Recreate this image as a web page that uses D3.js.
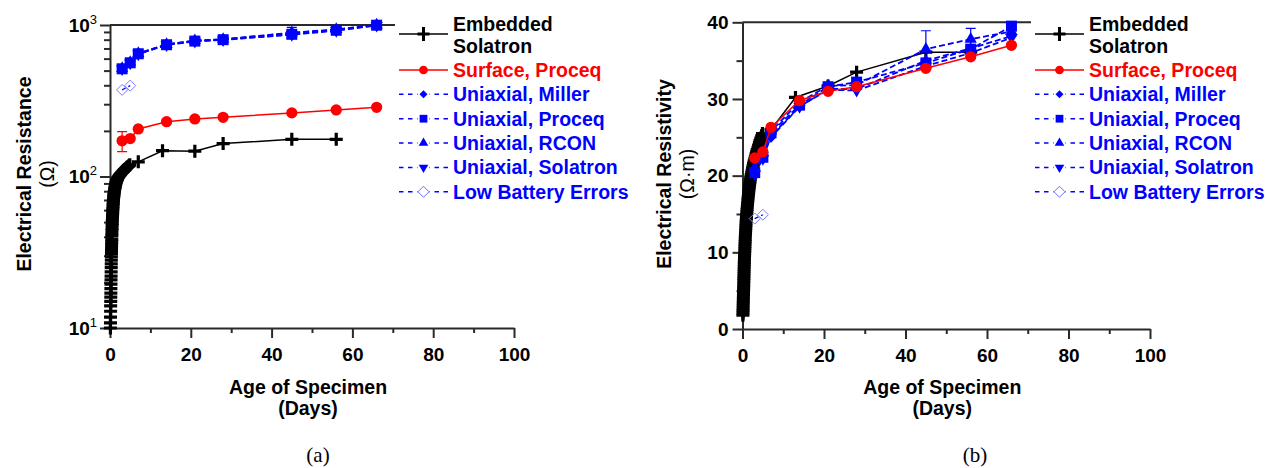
<!DOCTYPE html>
<html>
<head>
<meta charset="utf-8">
<script src="https://cdn.jsdelivr.net/npm/d3@7"></script>
<style>
  body { margin: 0; background: #fff; }
  svg { display: block; }
  text { font-family: "Liberation Sans", Arial, sans-serif; }
</style>
</head>
<body>
<svg id="chart" width="1277" height="468"></svg>
<script>
// ---- data ----
// embedded Solatron: dense logging up to day 5, then weekly readings
var embeddedDays = [0.10,0.12,0.13,0.15,0.16,0.18,0.19,0.21,0.22,0.24,
    0.25,0.27,0.28,0.30,0.31,0.33,0.34,0.36,0.37,0.39,
    0.40,0.42,0.44,0.45,0.47,0.49,0.51,0.53,0.56,0.58,
    0.60,0.62,0.65,0.67,0.69,0.72,0.75,0.78,0.81,0.84,
    0.87,0.90,0.95,0.98,1.03,1.08,1.12,1.17,1.22,1.27,
    1.32,1.38,1.44,1.50,1.56,1.63,1.70,1.77,1.85,1.92,
    2.02,2.13,2.25,2.36,2.47,2.59,2.70,2.85,3.00,3.15,
    3.30,3.45,3.60,3.80,3.95,4.15,4.30,4.50,4.70,4.90,
    7,13,21,28,45,56];
var embeddedOhm = [10.0,10.8,11.8,12.9,14.0,15.0,16.0,17.0,18.2,19.5,
    20.8,22.0,23.5,25.0,26.5,28.0,29.5,31.0,32.5,34.0,
    35.5,37.0,38.5,40.5,42.0,44.0,45.5,47.5,49.0,51.0,
    52.5,54.5,56.0,58.0,60.0,61.5,63.5,65.5,67.0,69.0,
    70.5,72.5,74.5,76.0,78.0,79.5,81.0,82.5,84.0,85.5,
    87.0,88.5,89.5,91.0,92.0,93.0,94.5,95.5,96.5,97.5,
    98.5,99.5,100.5,101.5,102.5,103.5,104.5,105.5,106.5,107.5,
    109.0,110.0,111.0,112.0,113.0,114.5,115.5,116.5,118.0,119.5,
    125,148,147,165,176,176];
var embeddedRho = [1.8,2.1,2.4,2.7,3.0,3.3,3.6,3.9,4.2,4.5,
    4.8,5.1,5.4,5.7,6.0,6.3,6.6,6.9,7.2,7.5,
    7.8,8.1,8.4,8.7,9.0,9.3,9.6,9.9,10.2,10.5,
    10.8,11.1,11.4,11.7,12.0,12.3,12.6,12.9,13.2,13.5,
    13.8,14.1,14.4,14.7,15.0,15.3,15.6,15.9,16.2,16.5,
    16.8,17.1,17.4,17.7,18.0,18.3,18.6,18.9,19.2,19.5,
    19.8,20.1,20.4,20.7,21.0,21.3,21.6,21.9,22.2,22.5,
    22.8,23.1,23.4,23.7,24.0,24.3,24.6,24.9,25.2,25.5,
    26.0,30.2,31.7,33.5,36.1,36.1];

var testDays = [3,5,7,14,21,28,45,56,66];
var surfaceOhm = [172,178,206,230,240,246,263,275,286];
var surfaceOhmErr = [26,0,0,0,0,0,0,0,0];
var surfaceRho = [22.3,23.1,26.3,29.8,31.0,31.6,34.0,35.5,37.0];

var millerOhm = [516,566,648,743,787,803,885,930,1000];
var proceqOhm = [514,563,646,741,783,800,868,923,997];
var rconOhm = [518,568,650,745,790,805,890,935,1002];
var rconOhmErr = [0,0,0,0,0,0,75,0,0];
var solatronOhm = [512,560,643,738,780,797,864,918,993];

var millerRho = [20.6,22.6,25.0,29.0,31.3,31.3,35.0,36.6,38.2];
var proceqRho = [20.4,22.4,25.6,29.2,31.6,32.2,34.7,36.5,39.5];
var rconRho = [21.0,23.0,25.8,29.6,31.7,31.8,36.5,37.8,38.8];
var rconRhoErr = [0,0,0,0,0,0,2.4,1.4,0];
var solatronRho = [20.2,22.2,25.2,29.0,31.2,31.1,34.3,36.0,38.0];

var lowBatteryDays = [3,5];
var lowBatteryOhm = [373,398];
var lowBatteryRho = [14.4,14.9];

var xTicks = [0,20,40,60,80,100];
var xMinorTicks = [10,30,50,70,90];
var legendNames = ["Surface, Proceq","Uniaxial, Miller","Uniaxial, Proceq","Uniaxial, RCON","Uniaxial, Solatron","Low Battery Errors"];

var svg = d3.select("#chart");
var BLUE = "#0000ff", RED = "#ff0000", AXIS = "#2a2a2a";

// marker paths
function diamondPath(r) { return "M0," + (-r) + "L" + r + ",0L0," + r + "L" + (-r) + ",0Z"; }
var markers = {
    plus: { d: "M-6.5,0H6.5M0,-6.5V6.5", fill: "none", stroke: "#000", sw: 3.2 },
    circle: { d: d3.symbol(d3.symbolCircle, 100)(), fill: RED, stroke: "none", sw: 0 },
    diamond: { d: diamondPath(5.5), fill: BLUE, stroke: "none", sw: 0 },
    square: { d: d3.symbol(d3.symbolSquare, 121)(), fill: BLUE, stroke: "none", sw: 0 },
    tri: { d: d3.symbol(d3.symbolTriangle, 65)(), fill: BLUE, stroke: "none", sw: 0 },
    triDown: { d: d3.symbol(d3.symbolTriangle, 65)(), fill: BLUE, stroke: "none", sw: 0, rot: 180 },
    openDiamond: { d: diamondPath(5.5), fill: "none", stroke: "#7d7dff", sw: 1 }
};
var legendMarkers = {
    plus: { d: "M-6,0H6M0,-7V7", fill: "none", stroke: "#000", sw: 3 },
    circle: { d: d3.symbol(d3.symbolCircle, 60)(), fill: RED, stroke: "none", sw: 0 },
    diamond: { d: diamondPath(4), fill: BLUE, stroke: "none", sw: 0 },
    square: { d: d3.symbol(d3.symbolSquare, 60)(), fill: BLUE, stroke: "none", sw: 0 },
    tri: { d: d3.symbol(d3.symbolTriangle, 40)(), fill: BLUE, stroke: "none", sw: 0 },
    triDown: { d: d3.symbol(d3.symbolTriangle, 40)(), fill: BLUE, stroke: "none", sw: 0, rot: 180 },
    openDiamond: { d: diamondPath(5.5), fill: "none", stroke: "#6b6bff", sw: 1 }
};

function drawMarkers(g, pts, m) {
    g.selectAll(null)
        .data(pts)
        .enter().append("path")
        .attr("d", m.d)
        .attr("transform", function (p) { return "translate(" + p[0] + "," + p[1] + ")" + (m.rot ? " rotate(" + m.rot + ")" : ""); })
        .attr("fill", m.fill)
        .attr("stroke", m.stroke)
        .attr("stroke-width", m.sw);
}

function drawSeries(g, x, y, days, vals, opt) {
    var pts = days.map(function (d, i) { return [x(d), y(vals[i])]; });
    // error bars first
    if (opt.err) {
        opt.err.forEach(function (e, i) {
            if (!e) return;
            var px = x(days[i]);
            var y1 = y(vals[i] + e), y0 = y(vals[i] - e);
            g.append("path")
                .attr("d", "M" + px + "," + y0 + "V" + y1 + "M" + (px - 5) + "," + y1 + "H" + (px + 5) + "M" + (px - 5) + "," + y0 + "H" + (px + 5))
                .attr("stroke", opt.color).attr("stroke-width", 1.2).attr("fill", "none");
        });
    }
    g.append("path")
        .attr("d", d3.line()(pts))
        .attr("fill", "none")
        .attr("stroke", opt.lineColor || opt.color)
        .attr("stroke-width", opt.width || 1.5)
        .attr("stroke-dasharray", opt.dash || null);
    drawMarkers(g, pts, opt.marker);
}

function drawPanel(cfg) {
    var g = svg.append("g");
    var x = d3.scaleLinear().domain([0, 100]).range([cfg.left, cfg.right]);
    var y = cfg.y;

    // top frame line
    g.append("line")
        .attr("x1", cfg.left).attr("x2", cfg.right)
        .attr("y1", cfg.top).attr("y2", cfg.top)
        .attr("stroke", AXIS).attr("stroke-width", 2);

    // x axis
    var xAxis = g.append("g").attr("transform", "translate(0," + cfg.bottom + ")")
        .call(d3.axisBottom(x).tickValues(xTicks).tickSize(10).tickSizeOuter(0).tickPadding(10));
    g.append("g").attr("transform", "translate(0," + cfg.bottom + ")")
        .call(d3.axisBottom(x).tickValues(xMinorTicks).tickSize(5).tickSizeOuter(0).tickFormat(""))
        .select(".domain").remove();
    xAxis.selectAll("text").style("font-size", "19px").style("font-weight", "bold").attr("fill", "#000");

    // y axis
    var yAxis = g.append("g").attr("transform", "translate(" + cfg.left + ",0)")
        .call(d3.axisLeft(y).tickValues(cfg.yTicks).tickSize(10).tickSizeOuter(0).tickPadding(4)
            .tickFormat(cfg.log ? "" : d3.format("d")));
    g.append("g").attr("transform", "translate(" + cfg.left + ",0)")
        .call(d3.axisLeft(y).tickValues(cfg.yMinor).tickSize(6).tickSizeOuter(0).tickFormat(""))
        .select(".domain").remove();
    yAxis.selectAll("text").style("font-size", "19px").style("font-weight", "bold").attr("fill", "#000");
    if (cfg.log) {
        cfg.yTicks.forEach(function (t) {
            var txt = g.append("text")
                .attr("x", cfg.left - 13).attr("y", y(t)).attr("dy", "0.36em")
                .attr("text-anchor", "end")
                .style("font-size", "19px").style("font-weight", "bold");
            txt.append("tspan").text("10");
            txt.append("tspan").attr("dy", -8).style("font-size", "13px").style("font-weight", "normal")
                .text(Math.round(Math.log10(t)));
        });
    }
    g.selectAll(".domain, .tick line").attr("stroke", AXIS).attr("stroke-width", 2);

    // axis titles
    var midY = 174;
    g.append("text")
        .attr("transform", "translate(" + cfg.yTitleX + "," + midY + ") rotate(-90)")
        .attr("text-anchor", "middle").attr("dominant-baseline", "central")
        .style("font-size", "19.5px").style("font-weight", "bold")
        .text(cfg.yTitle1);
    g.append("text")
        .attr("transform", "translate(" + (cfg.yTitleX + 23) + "," + midY + ") rotate(-90)")
        .attr("text-anchor", "middle").attr("dominant-baseline", "central")
        .style("font-size", "19.5px")
        .text(cfg.yTitle2);
    var xMid = (cfg.left + cfg.right) / 2 - 4;
    g.append("text").attr("x", xMid).attr("y", 394).attr("text-anchor", "middle")
        .style("font-size", "19.5px").style("font-weight", "bold").text("Age of Specimen");
    g.append("text").attr("x", xMid).attr("y", 415).attr("text-anchor", "middle")
        .style("font-size", "19.5px").style("font-weight", "bold").text("(Days)");
    g.append("text").attr("x", cfg.captionX).attr("y", 462).attr("text-anchor", "middle")
        .style("font-family", "'Liberation Serif', 'Times New Roman', serif")
        .style("font-size", "21px").text(cfg.caption);

    // data
    var d = cfg.data;
    drawSeries(g, x, y, embeddedDays, d.embedded, { color: "#000", width: 1.5, marker: markers.plus });
    drawSeries(g, x, y, testDays, d.solatron, { color: BLUE, width: 1.8, dash: "6,3", marker: markers.triDown });
    drawSeries(g, x, y, testDays, d.miller, { color: BLUE, width: 1.8, dash: "6,3", marker: markers.diamond });
    drawSeries(g, x, y, testDays, d.rcon, { color: BLUE, width: 1.8, dash: "6,3", marker: markers.tri, err: d.rconErr });
    drawSeries(g, x, y, testDays, d.proceq, { color: BLUE, width: 1.8, dash: "6,3", marker: markers.square });
    drawSeries(g, x, y, lowBatteryDays, d.low, { color: "#7d7dff", lineColor: BLUE, width: 1.2, dash: "4,3", marker: markers.openDiamond });
    drawSeries(g, x, y, testDays, d.surface, { color: RED, width: 1.5, marker: markers.circle, err: d.surfaceErr });

    // legend
    var lg = g.append("g");
    lg.append("rect").attr("x", cfg.legendX - 4).attr("y", 0).attr("width", 1277 - cfg.legendX + 4).attr("height", 205)
        .attr("fill", "#fff");
    var lx0 = cfg.legendX, lx1 = cfg.legendX + 49, lmid = (lx0 + lx1) / 2, tx = lx1 + 5;
    // embedded (two-line label)
    lg.append("line").attr("x1", lx0).attr("x2", lx1).attr("y1", 34).attr("y2", 34)
        .attr("stroke", "#000").attr("stroke-width", 1.5);
    drawMarkers(lg, [[lmid, 34]], legendMarkers.plus);
    lg.append("text").attr("x", tx).attr("y", 24).attr("dy", "0.36em")
        .style("font-size", "19.5px").style("font-weight", "bold").text("Embedded");
    lg.append("text").attr("x", tx).attr("y", 45.5).attr("dy", "0.36em")
        .style("font-size", "19.5px").style("font-weight", "bold").text("Solatron");
    var rows = [
        { c: RED, dash: null, m: legendMarkers.circle },
        { c: BLUE, dash: "4.5,4.5", m: legendMarkers.diamond },
        { c: BLUE, dash: "4.5,4.5", m: legendMarkers.square },
        { c: BLUE, dash: "4.5,4.5", m: legendMarkers.tri },
        { c: BLUE, dash: "4.5,4.5", m: legendMarkers.triDown },
        { c: BLUE, dash: "4.5,4.5", m: legendMarkers.openDiamond }
    ];
    rows.forEach(function (r, i) {
        var ry = 70 + i * 24.35;
        if (r.dash) {
            lg.append("line").attr("x1", lx0).attr("x2", lmid - 6).attr("y1", ry).attr("y2", ry)
                .attr("stroke", r.c).attr("stroke-width", 1.5).attr("stroke-dasharray", r.dash);
            lg.append("line").attr("x1", lx1).attr("x2", lmid + 6).attr("y1", ry).attr("y2", ry)
                .attr("stroke", r.c).attr("stroke-width", 1.5).attr("stroke-dasharray", r.dash);
        } else {
            lg.append("line").attr("x1", lx0).attr("x2", lx1).attr("y1", ry).attr("y2", ry)
                .attr("stroke", r.c).attr("stroke-width", 1.5);
        }
        drawMarkers(lg, [[lmid, ry]], r.m);
        lg.append("text").attr("x", tx).attr("y", ry).attr("dy", "0.36em")
            .attr("fill", r.c)
            .style("font-size", "19.5px").style("font-weight", "bold").text(legendNames[i]);
    });
}

drawPanel({
    left: 110, right: 514, top: 25, bottom: 328,
    y: d3.scaleLog().domain([10, 1000]).range([328, 25]),
    log: true,
    yTicks: [10, 100, 1000],
    yMinor: [20,30,40,50,60,70,80,90,200,300,400,500,600,700,800,900],
    yTitle1: "Electrical Resistance", yTitle2: "(\u03A9)", yTitleX: 24,
    legendX: 399, caption: "(a)", captionX: 318,
    data: { embedded: embeddedOhm, surface: surfaceOhm, surfaceErr: surfaceOhmErr,
        miller: millerOhm, proceq: proceqOhm, rcon: rconOhm, rconErr: rconOhmErr,
        solatron: solatronOhm, low: lowBatteryOhm }
});

drawPanel({
    left: 742.5, right: 1150, top: 22.3, bottom: 329,
    y: d3.scaleLinear().domain([0, 40]).range([329, 22.3]),
    log: false,
    yTicks: [0, 10, 20, 30, 40],
    yMinor: [5, 15, 25, 35],
    yTitle1: "Electrical Resistivity", yTitle2: "(\u03A9\u00B7m)", yTitleX: 664,
    legendX: 1035, caption: "(b)", captionX: 975,
    data: { embedded: embeddedRho, surface: surfaceRho, surfaceErr: null,
        miller: millerRho, proceq: proceqRho, rcon: rconRho, rconErr: rconRhoErr,
        solatron: solatronRho, low: lowBatteryRho }
});
</script>
</body>
</html>
